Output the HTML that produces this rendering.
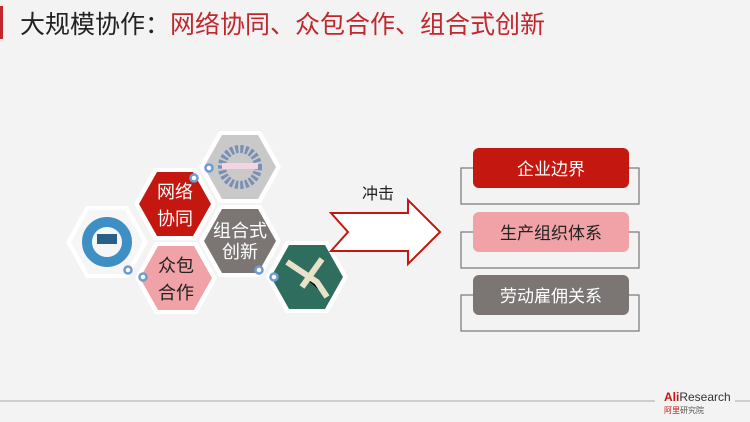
<!DOCTYPE html>
<html><head><meta charset="utf-8"><style>
body{margin:0;width:750px;height:422px;background:#f3f3f3;overflow:hidden;font-family:"Liberation Sans","Noto Sans CJK SC",sans-serif}
</style></head><body>
<svg width="750" height="422" xmlns="http://www.w3.org/2000/svg" style="position:absolute;left:0;top:0">
<rect x="0" y="6" width="3" height="33" fill="#c0282d"/>
<text x="20" y="33" font-size="25" fill="#222" font-family="Liberation Sans,Noto Sans CJK SC,sans-serif">大规模协作：<tspan fill="#c0282d">网络协同、众包合作、组合式创新</tspan></text>
<defs>
<g id="hx"><polygon points="-41,0 -21,-36 21,-36 41,0 21,36 -21,36" fill="#fff"/></g>
</defs>
<g font-family="Liberation Sans,Noto Sans CJK SC,sans-serif" font-size="18" text-anchor="middle">
<g transform="translate(240,167)"><use href="#hx"/><polygon points="-36,0 -18,-32 18,-32 36,0 18,32 -18,32" fill="#c9c9c9"/><circle r="18" fill="none" stroke="#7a8fb5" stroke-width="8" stroke-dasharray="3 2"/><rect x="-18" y="-4" width="36" height="6" fill="#f2d5e0"/></g>
<g transform="translate(107,242)"><use href="#hx"/><polygon points="-36,0 -18,-32 18,-32 36,0 18,32 -18,32" fill="#f6f6f6"/><circle r="20" fill="none" stroke="#3d8fc4" stroke-width="10"/><rect x="-10" y="-8" width="20" height="10" fill="#2a5f88"/></g>
<g transform="translate(307,277)"><use href="#hx"/><polygon points="-36,0 -18,-32 18,-32 36,0 18,32 -18,32" fill="#2f6d5e"/><path d="M-20,-15 L10,5 L20,20 M-5,10 L15,-18" stroke="#e8e2c8" stroke-width="6"/></g>
<g transform="translate(175,204)"><use href="#hx"/><polygon points="-36,0 -18,-32 18,-32 36,0 18,32 -18,32" fill="#c4170f"/><text y="-6" fill="#fff">网络</text><text y="21" fill="#fff">协同</text></g>
<g transform="translate(240,241)"><use href="#hx"/><polygon points="-36,0 -18,-32 18,-32 36,0 18,32 -18,32" fill="#7b7574"/><text y="-4" fill="#fff">组合式</text><text y="17" fill="#fff">创新</text></g>
<g transform="translate(176,278)"><use href="#hx"/><polygon points="-36,0 -18,-32 18,-32 36,0 18,32 -18,32" fill="#f0a2a6"/><text y="-6" fill="#222">众包</text><text y="21" fill="#222">合作</text></g>
</g>
<g fill="#fff" stroke="#6b9bd3" stroke-width="2.5">
<circle cx="194" cy="178" r="3.5"/><circle cx="209" cy="168" r="3.5"/><circle cx="128" cy="270" r="3.5"/><circle cx="143" cy="277" r="3.5"/><circle cx="259" cy="270" r="3.5"/><circle cx="274" cy="277" r="3.5"/>
</g>
<polygon points="331,213 408,213 408,200 440,232 408,264 408,251 331,251 348,232" fill="#fff" stroke="#c4170f" stroke-width="2"/>
<text x="378" y="199" font-size="16" text-anchor="middle" fill="#222" font-family="Liberation Sans,Noto Sans CJK SC,sans-serif">冲击</text>
<g fill="none" stroke="#777" stroke-width="1.2">
<rect x="461" y="168" width="178" height="36"/><rect x="461" y="232" width="178" height="36"/><rect x="461" y="295" width="178" height="36"/>
</g>
<g font-size="17" text-anchor="middle" font-family="Liberation Sans,Noto Sans CJK SC,sans-serif">
<rect x="473" y="148" width="156" height="40" rx="6" fill="#c4170f"/><text x="551" y="175" fill="#fff">企业边界</text>
<rect x="473" y="212" width="156" height="40" rx="6" fill="#f0a2a6"/><text x="551" y="239" fill="#222">生产组织体系</text>
<rect x="473" y="275" width="156" height="40" rx="6" fill="#7b7574"/><text x="551" y="302" fill="#fff">劳动雇佣关系</text>
</g>
<line x1="0" y1="401" x2="655" y2="401" stroke="#aaa" stroke-width="1"/>
<line x1="735" y1="401" x2="750" y2="401" stroke="#aaa" stroke-width="1"/>
<text x="664" y="401" font-size="12" font-weight="bold" fill="#c4170f" font-family="Liberation Sans,sans-serif">Ali<tspan font-weight="normal" fill="#333">Research</tspan></text>
<text x="664" y="413" font-size="8" fill="#c4170f" font-family="Liberation Sans,Noto Sans CJK SC,sans-serif">阿里<tspan fill="#555">研究院</tspan></text>
</svg>
</body></html>
